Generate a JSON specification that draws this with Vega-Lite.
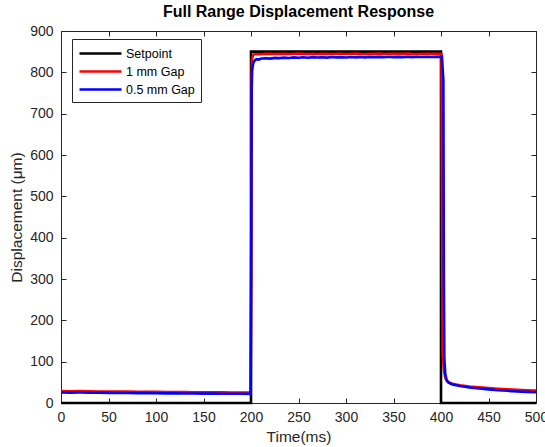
{
  "$schema": "https://vega.github.io/schema/vega-lite/v6.json",
  "width": 475,
  "height": 372,
  "autosize": "none",
  "padding": {"left": 61, "top": 31, "right": 9, "bottom": 44},
  "background": "white",
  "title": {"text": "Full Range Displacement Response", "fontSize": 16, "fontWeight": "bold", "color": "black", "font": "Liberation Sans", "offset": 4},
  "config": {
    "font": "Liberation Sans",
    "view": {"stroke": null},
    "axis": {"grid": false, "labelFlush": false, "labelFontSize": 14, "titleFontSize": 15.5, "titleFontWeight": "normal", "labelColor": "#262626", "titleColor": "#262626", "domainColor": "#262626", "tickColor": "#262626", "tickSize": -5, "labelPadding": 6}
  },
  "data": {"values": [
    {"t": 0, "v": 0, "s": "Setpoint"}, {"t": 200, "v": 0, "s": "Setpoint"}, {"t": 200, "v": 850, "s": "Setpoint"}, {"t": 400, "v": 850, "s": "Setpoint"}, {"t": 400, "v": 0, "s": "Setpoint"}, {"t": 500, "v": 0, "s": "Setpoint"},

    {"t": 0, "v": 29.0, "s": "1 mm Gap"}, {"t": 10, "v": 28.6, "s": "1 mm Gap"}, {"t": 20, "v": 28.8, "s": "1 mm Gap"}, {"t": 30, "v": 28.3, "s": "1 mm Gap"}, {"t": 40, "v": 28.0, "s": "1 mm Gap"}, {"t": 50, "v": 27.9, "s": "1 mm Gap"}, {"t": 60, "v": 27.6, "s": "1 mm Gap"}, {"t": 70, "v": 27.7, "s": "1 mm Gap"}, {"t": 80, "v": 27.2, "s": "1 mm Gap"}, {"t": 90, "v": 27.0, "s": "1 mm Gap"}, {"t": 100, "v": 26.9, "s": "1 mm Gap"}, {"t": 110, "v": 26.6, "s": "1 mm Gap"}, {"t": 120, "v": 26.7, "s": "1 mm Gap"}, {"t": 130, "v": 26.3, "s": "1 mm Gap"}, {"t": 140, "v": 26.1, "s": "1 mm Gap"}, {"t": 150, "v": 26.0, "s": "1 mm Gap"}, {"t": 160, "v": 25.8, "s": "1 mm Gap"}, {"t": 170, "v": 25.6, "s": "1 mm Gap"}, {"t": 180, "v": 25.5, "s": "1 mm Gap"}, {"t": 190, "v": 25.2, "s": "1 mm Gap"}, {"t": 199.5, "v": 25.0, "s": "1 mm Gap"},
    {"t": 200.2, "v": 300, "s": "1 mm Gap"}, {"t": 200.6, "v": 780, "s": "1 mm Gap"}, {"t": 201, "v": 830, "s": "1 mm Gap"}, {"t": 202, "v": 841, "s": "1 mm Gap"}, {"t": 203, "v": 843.5, "s": "1 mm Gap"},
    {"t": 205, "v": 844.5, "s": "1 mm Gap"}, {"t": 210, "v": 843.8, "s": "1 mm Gap"}, {"t": 215, "v": 845.0, "s": "1 mm Gap"}, {"t": 220, "v": 844.6, "s": "1 mm Gap"}, {"t": 225, "v": 844.2, "s": "1 mm Gap"}, {"t": 230, "v": 845.1, "s": "1 mm Gap"}, {"t": 235, "v": 844.7, "s": "1 mm Gap"}, {"t": 240, "v": 844.3, "s": "1 mm Gap"}, {"t": 245, "v": 844.9, "s": "1 mm Gap"}, {"t": 250, "v": 845.2, "s": "1 mm Gap"}, {"t": 255, "v": 844.6, "s": "1 mm Gap"}, {"t": 260, "v": 844.2, "s": "1 mm Gap"}, {"t": 265, "v": 844.9, "s": "1 mm Gap"}, {"t": 270, "v": 844.5, "s": "1 mm Gap"}, {"t": 275, "v": 845.0, "s": "1 mm Gap"}, {"t": 280, "v": 844.7, "s": "1 mm Gap"}, {"t": 285, "v": 844.3, "s": "1 mm Gap"}, {"t": 290, "v": 845.1, "s": "1 mm Gap"}, {"t": 295, "v": 844.8, "s": "1 mm Gap"}, {"t": 300, "v": 844.5, "s": "1 mm Gap"}, {"t": 305, "v": 844.9, "s": "1 mm Gap"}, {"t": 310, "v": 845.3, "s": "1 mm Gap"}, {"t": 315, "v": 844.6, "s": "1 mm Gap"}, {"t": 320, "v": 844.4, "s": "1 mm Gap"}, {"t": 325, "v": 845.0, "s": "1 mm Gap"}, {"t": 330, "v": 844.7, "s": "1 mm Gap"}, {"t": 335, "v": 845.2, "s": "1 mm Gap"}, {"t": 340, "v": 844.5, "s": "1 mm Gap"}, {"t": 345, "v": 844.9, "s": "1 mm Gap"}, {"t": 350, "v": 845.1, "s": "1 mm Gap"}, {"t": 355, "v": 844.6, "s": "1 mm Gap"}, {"t": 360, "v": 844.8, "s": "1 mm Gap"}, {"t": 365, "v": 845.3, "s": "1 mm Gap"}, {"t": 370, "v": 844.7, "s": "1 mm Gap"}, {"t": 375, "v": 844.5, "s": "1 mm Gap"}, {"t": 380, "v": 845.0, "s": "1 mm Gap"}, {"t": 385, "v": 844.8, "s": "1 mm Gap"}, {"t": 390, "v": 845.1, "s": "1 mm Gap"}, {"t": 395, "v": 844.7, "s": "1 mm Gap"}, {"t": 400.5, "v": 844.5, "s": "1 mm Gap"},
    {"t": 401.2, "v": 400, "s": "1 mm Gap"}, {"t": 401.8, "v": 120, "s": "1 mm Gap"}, {"t": 403, "v": 80, "s": "1 mm Gap"}, {"t": 404.5, "v": 61, "s": "1 mm Gap"}, {"t": 406, "v": 54, "s": "1 mm Gap"}, {"t": 408, "v": 50, "s": "1 mm Gap"}, {"t": 412, "v": 46.5, "s": "1 mm Gap"}, {"t": 420, "v": 43, "s": "1 mm Gap"}, {"t": 430, "v": 40, "s": "1 mm Gap"}, {"t": 440, "v": 38, "s": "1 mm Gap"}, {"t": 450, "v": 36, "s": "1 mm Gap"}, {"t": 460, "v": 34.5, "s": "1 mm Gap"}, {"t": 470, "v": 33, "s": "1 mm Gap"}, {"t": 480, "v": 32, "s": "1 mm Gap"}, {"t": 490, "v": 31, "s": "1 mm Gap"}, {"t": 500, "v": 30, "s": "1 mm Gap"},

    {"t": 0, "v": 25.5, "s": "0.5 mm Gap"}, {"t": 10, "v": 25.2, "s": "0.5 mm Gap"}, {"t": 20, "v": 25.3, "s": "0.5 mm Gap"}, {"t": 30, "v": 24.9, "s": "0.5 mm Gap"}, {"t": 40, "v": 24.7, "s": "0.5 mm Gap"}, {"t": 50, "v": 24.6, "s": "0.5 mm Gap"}, {"t": 60, "v": 24.3, "s": "0.5 mm Gap"}, {"t": 70, "v": 24.2, "s": "0.5 mm Gap"}, {"t": 80, "v": 23.9, "s": "0.5 mm Gap"}, {"t": 90, "v": 23.8, "s": "0.5 mm Gap"}, {"t": 100, "v": 23.6, "s": "0.5 mm Gap"}, {"t": 110, "v": 23.4, "s": "0.5 mm Gap"}, {"t": 120, "v": 23.3, "s": "0.5 mm Gap"}, {"t": 130, "v": 23.1, "s": "0.5 mm Gap"}, {"t": 140, "v": 22.9, "s": "0.5 mm Gap"}, {"t": 150, "v": 22.8, "s": "0.5 mm Gap"}, {"t": 160, "v": 22.6, "s": "0.5 mm Gap"}, {"t": 170, "v": 22.5, "s": "0.5 mm Gap"}, {"t": 180, "v": 22.3, "s": "0.5 mm Gap"}, {"t": 190, "v": 22.2, "s": "0.5 mm Gap"}, {"t": 199.7, "v": 22.0, "s": "0.5 mm Gap"},
    {"t": 200.3, "v": 400, "s": "0.5 mm Gap"}, {"t": 200.7, "v": 760, "s": "0.5 mm Gap"}, {"t": 201.2, "v": 805, "s": "0.5 mm Gap"}, {"t": 202, "v": 818, "s": "0.5 mm Gap"}, {"t": 203, "v": 826, "s": "0.5 mm Gap"}, {"t": 204.5, "v": 830, "s": "0.5 mm Gap"}, {"t": 206, "v": 832, "s": "0.5 mm Gap"}, {"t": 208, "v": 831, "s": "0.5 mm Gap"}, {"t": 210, "v": 833, "s": "0.5 mm Gap"},
    {"t": 215, "v": 834, "s": "0.5 mm Gap"}, {"t": 220, "v": 833.2, "s": "0.5 mm Gap"}, {"t": 225, "v": 835, "s": "0.5 mm Gap"}, {"t": 230, "v": 834.4, "s": "0.5 mm Gap"}, {"t": 235, "v": 835.6, "s": "0.5 mm Gap"}, {"t": 240, "v": 834.8, "s": "0.5 mm Gap"}, {"t": 245, "v": 836.2, "s": "0.5 mm Gap"}, {"t": 250, "v": 835.3, "s": "0.5 mm Gap"}, {"t": 255, "v": 836.5, "s": "0.5 mm Gap"}, {"t": 260, "v": 835.4, "s": "0.5 mm Gap"}, {"t": 265, "v": 836.8, "s": "0.5 mm Gap"}, {"t": 270, "v": 835.9, "s": "0.5 mm Gap"}, {"t": 275, "v": 836.6, "s": "0.5 mm Gap"}, {"t": 280, "v": 835.7, "s": "0.5 mm Gap"}, {"t": 285, "v": 837.0, "s": "0.5 mm Gap"}, {"t": 290, "v": 836.1, "s": "0.5 mm Gap"}, {"t": 295, "v": 836.9, "s": "0.5 mm Gap"}, {"t": 300, "v": 836.0, "s": "0.5 mm Gap"}, {"t": 305, "v": 837.2, "s": "0.5 mm Gap"}, {"t": 310, "v": 836.3, "s": "0.5 mm Gap"}, {"t": 315, "v": 837.1, "s": "0.5 mm Gap"}, {"t": 320, "v": 836.2, "s": "0.5 mm Gap"}, {"t": 325, "v": 837.4, "s": "0.5 mm Gap"}, {"t": 330, "v": 836.5, "s": "0.5 mm Gap"}, {"t": 335, "v": 837.3, "s": "0.5 mm Gap"}, {"t": 340, "v": 836.6, "s": "0.5 mm Gap"}, {"t": 345, "v": 837.6, "s": "0.5 mm Gap"}, {"t": 350, "v": 836.7, "s": "0.5 mm Gap"}, {"t": 355, "v": 837.5, "s": "0.5 mm Gap"}, {"t": 360, "v": 836.8, "s": "0.5 mm Gap"}, {"t": 365, "v": 837.7, "s": "0.5 mm Gap"}, {"t": 370, "v": 836.9, "s": "0.5 mm Gap"}, {"t": 375, "v": 837.6, "s": "0.5 mm Gap"}, {"t": 380, "v": 837.0, "s": "0.5 mm Gap"}, {"t": 385, "v": 837.8, "s": "0.5 mm Gap"}, {"t": 390, "v": 837.1, "s": "0.5 mm Gap"}, {"t": 395, "v": 837.7, "s": "0.5 mm Gap"}, {"t": 401, "v": 837.5, "s": "0.5 mm Gap"},
    {"t": 402.5, "v": 780, "s": "0.5 mm Gap"}, {"t": 403, "v": 300, "s": "0.5 mm Gap"}, {"t": 403.5, "v": 110, "s": "0.5 mm Gap"}, {"t": 404.5, "v": 70, "s": "0.5 mm Gap"}, {"t": 406, "v": 55, "s": "0.5 mm Gap"}, {"t": 408, "v": 49, "s": "0.5 mm Gap"}, {"t": 412, "v": 45, "s": "0.5 mm Gap"}, {"t": 420, "v": 41, "s": "0.5 mm Gap"}, {"t": 430, "v": 37.5, "s": "0.5 mm Gap"}, {"t": 440, "v": 35, "s": "0.5 mm Gap"}, {"t": 450, "v": 33, "s": "0.5 mm Gap"}, {"t": 460, "v": 31, "s": "0.5 mm Gap"}, {"t": 470, "v": 29.5, "s": "0.5 mm Gap"}, {"t": 480, "v": 28, "s": "0.5 mm Gap"}, {"t": 490, "v": 27, "s": "0.5 mm Gap"}, {"t": 500, "v": 26, "s": "0.5 mm Gap"}
  ]},
  "layer": [
    {
      "transform": [{"filter": "datum.s === 'Setpoint'"}],
      "mark": {"type": "line", "strokeWidth": 2.6, "clip": false},
      "encoding": {
        "x": {"field": "t", "type": "quantitative", "scale": {"domain": [0, 500], "nice": false}, "axis": {"values": [0, 50, 100, 150, 200, 250, 300, 350, 400, 450, 500], "title": "Time(ms)", "titleY": 26, "titleBaseline": "top", "labelPadding": 12}},
        "y": {"field": "v", "type": "quantitative", "scale": {"domain": [0, 900], "nice": false}, "axis": {"values": [0, 100, 200, 300, 400, 500, 600, 700, 800, 900], "title": "Displacement (μm)", "titlePadding": 5, "labelPadding": 13}},
        "color": {"field": "s", "type": "nominal", "scale": {"domain": ["Setpoint", "1 mm Gap", "0.5 mm Gap"], "range": ["#000000", "#ff0000", "#0000ff"]}, "legend": {"orient": "none", "legendX": 11, "legendY": 8, "title": null, "symbolType": "M-1,0H5", "symbolSize": 196, "symbolStrokeWidth": 2.6, "symbolFillColor": "transparent", "labelOffset": 31, "labelFontSize": 12.5, "labelColor": "black", "strokeColor": "#262626", "fillColor": "white", "padding": 6, "rowPadding": 3}}
      }
    },
    {
      "transform": [{"filter": "datum.s === '1 mm Gap'"}],
      "mark": {"type": "line", "strokeWidth": 2.6},
      "encoding": {
        "x": {"field": "t", "type": "quantitative", "axis": null},
        "y": {"field": "v", "type": "quantitative", "axis": null},
        "color": {"field": "s", "type": "nominal"}
      }
    },
    {
      "transform": [{"filter": "datum.s === '0.5 mm Gap'"}],
      "mark": {"type": "line", "strokeWidth": 2.6},
      "encoding": {
        "x": {"field": "t", "type": "quantitative", "axis": null},
        "y": {"field": "v", "type": "quantitative", "axis": null},
        "color": {"field": "s", "type": "nominal"}
      }
    },
    {
      "mark": {"type": "point", "opacity": 0},
      "encoding": {
        "x": {"field": "t", "type": "quantitative", "axis": {"orient": "top", "labels": false, "title": null, "values": [0, 50, 100, 150, 200, 250, 300, 350, 400, 450, 500]}},
        "y": {"field": "v", "type": "quantitative", "axis": {"orient": "right", "labels": false, "title": null, "values": [0, 100, 200, 300, 400, 500, 600, 700, 800, 900]}}
      }
    }
  ],
  "resolve": {"axis": {"x": "independent", "y": "independent"}}
}
